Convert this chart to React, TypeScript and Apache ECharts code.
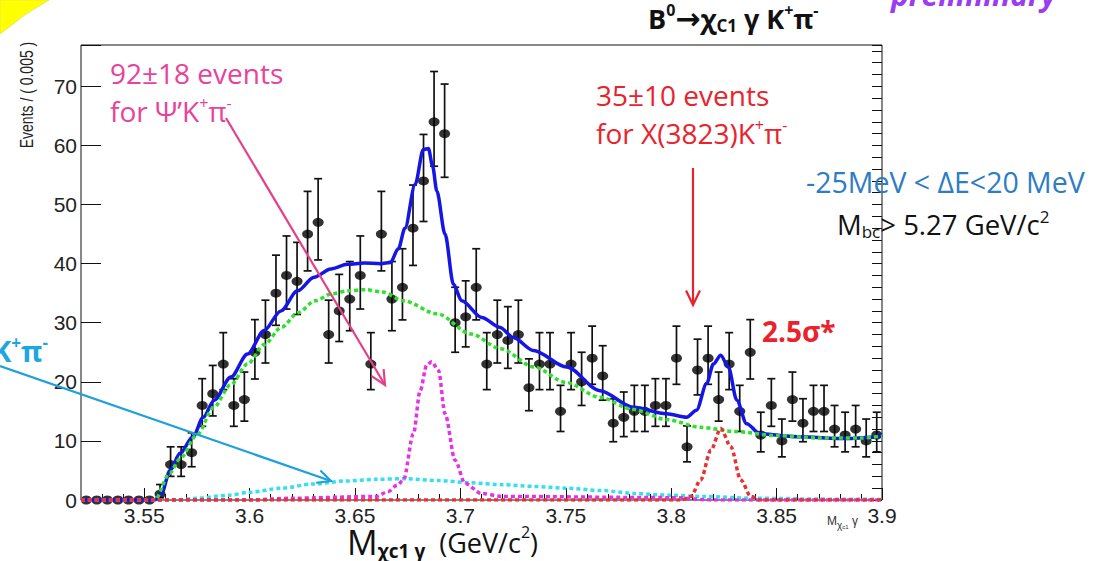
import React, { useEffect, useRef } from "react";
import * as echarts from "echarts";

// ---- data ----
const binCenters = [
  3.5225, 3.5275, 3.5325, 3.5375, 3.5425, 3.5475, 3.5525, 3.5575, 3.5625, 3.5675,
  3.5725, 3.5775, 3.5825, 3.5875, 3.5925, 3.5975, 3.6025, 3.6075, 3.6125, 3.6175,
  3.6225, 3.6275, 3.6325, 3.6375, 3.6425, 3.6475, 3.6525, 3.6575, 3.6625, 3.6675,
  3.6725, 3.6775, 3.6825, 3.6875, 3.6925, 3.6975, 3.7025, 3.7075, 3.7125, 3.7175,
  3.7225, 3.7275, 3.7325, 3.7375, 3.7425, 3.7475, 3.7525, 3.7575, 3.7625, 3.7675,
  3.7725, 3.7775, 3.7825, 3.7875, 3.7925, 3.7975, 3.8025, 3.8075, 3.8125, 3.8175,
  3.8225, 3.8275, 3.8325, 3.8375, 3.8425, 3.8475, 3.8525, 3.8575, 3.8625, 3.8675,
  3.8725, 3.8775, 3.8825, 3.8875, 3.8925, 3.8975,
];
const counts = [
  0, 0, 0, 0, 0, 0, 0, 1, 6, 6,
  8, 16, 18, 23, 16, 17, 25, 28, 35, 38,
  37, 45, 47, 28, 32, 34, 38, 23, 45, 34,
  36, 46, 54, 64, 62, 30, 31, 36, 23, 28,
  27, 28, 19, 23, 23, 15, 23, 20, 24, 21,
  13, 14, 15, 15, 16, 16, 24, 9, 22, 24,
  17, 23, 15, 25, 11, 16, 10, 17, 13, 15,
  15, 12, 11, 12, 10, 11,
];

const xMajorTicks = [3.55, 3.6, 3.65, 3.7, 3.75, 3.8, 3.85, 3.9];
const xMinorTicks = [
  3.53, 3.54, 3.56, 3.57, 3.58, 3.59, 3.61, 3.62, 3.63, 3.64, 3.66, 3.67, 3.68, 3.69,
  3.71, 3.72, 3.73, 3.74, 3.76, 3.77, 3.78, 3.79, 3.81, 3.82, 3.83, 3.84, 3.86, 3.87,
  3.88, 3.89,
];
const yMajorTicks = [0, 10, 20, 30, 40, 50, 60, 70];

// total fit (blue)
const totalX = [
  3.52, 3.555, 3.5583, 3.5622, 3.567, 3.5731, 3.578, 3.5832, 3.5911, 3.599, 3.6069,
  3.6148, 3.6227, 3.6306, 3.6385, 3.6464, 3.6543, 3.6622, 3.6668, 3.6705, 3.6737,
  3.6785, 3.6824, 3.6848, 3.6868, 3.6888, 3.6927, 3.6967, 3.7006, 3.7101, 3.7188,
  3.7251, 3.7346, 3.7504, 3.7662, 3.782, 3.7978, 3.8073, 3.812, 3.8168, 3.82, 3.8235,
  3.8271, 3.8311, 3.8358, 3.8421, 3.8595, 3.8833, 3.895, 3.9,
];
const totalY = [
  0, 0, 1.2, 5, 7.9, 10.7, 14, 16.9, 20.8, 24.7, 28.7,
  32, 35.4, 37.7, 39.1, 39.9, 40.1, 40, 40.2, 42.5, 46,
  53.4, 59.3, 59.5, 56.5, 52.3, 45, 36.5, 33.7, 30.9, 29.2,
  27.5, 25.3, 22.5, 18.5, 15.7, 14.6, 14, 15.2, 19.7, 23, 24.5,
  22.5, 16.9, 12.9, 11.2, 10.7, 10.4, 10.6, 11,
];
// combinatorial background (green)
const bkgX = [
  3.52, 3.555, 3.562, 3.567, 3.575, 3.583, 3.591, 3.599, 3.607, 3.615, 3.623, 3.631,
  3.639, 3.647, 3.655, 3.663, 3.673, 3.689, 3.705, 3.719, 3.735, 3.75, 3.766, 3.782,
  3.798, 3.814, 3.83, 3.85, 3.87, 3.89, 3.9,
];
const bkgY = [
  0, 0, 4.5, 7, 11, 15.7, 19.5, 23, 26.3, 29.2, 31.7, 33.7,
  34.9, 35.4, 35.6, 35.2, 33.7, 31.5, 28.1, 25.6, 22.5, 19.9, 17.4, 15.3,
  13.6, 12.3, 11.6, 10.9, 10.5, 10.5, 10.8,
];
// non-resonant chi_c1 gamma K pi (cyan)
const nonResX = [
  3.52, 3.565, 3.575, 3.59, 3.6, 3.615, 3.63, 3.645, 3.66, 3.673, 3.69, 3.705, 3.72,
  3.735, 3.75, 3.767, 3.783, 3.8, 3.815, 3.84, 3.87, 3.9,
];
const nonResY = [
  0, 0, 0.3, 0.8, 1.3, 2, 2.7, 3.2, 3.5, 3.6, 3.3, 2.9, 2.6,
  2.3, 2, 1.6, 1.1, 0.8, 0.6, 0.3, 0.15, 0.1,
];
// psi' K pi peak (magenta)
const psiX = [
  3.52, 3.6, 3.62, 3.66, 3.6656, 3.67, 3.673, 3.6777, 3.6809, 3.684, 3.6864, 3.6896,
  3.6927, 3.6975, 3.7022, 3.71, 3.72, 3.8, 3.82, 3.9,
];
const psiY = [
  0, 0, 0.3, 0.6, 1.4, 2.5, 3.4, 11.2, 18.5, 22.8, 23.4, 21.9,
  14.6, 6.7, 2.8, 1.1, 0.6, 0.4, 0, 0,
];
// X(3823) K pi peak (red)
const x3823X = [3.52, 3.805, 3.8093, 3.814, 3.8188, 3.8235, 3.8283, 3.833, 3.8378, 3.842, 3.9];
const x3823Y = [0, 0, 0.6, 3.4, 8.4, 12.1, 9.0, 3.4, 0.6, 0, 0];

const SANS = "'Liberation Sans', Arial, sans-serif";
const SLIDE = "'Open Sans', 'Noto Sans', sans-serif";

function arrow(x1: number, y1: number, x2: number, y2: number, color: string, w: number, head: number) {
  const a = Math.atan2(y2 - y1, x2 - x1);
  const s = 0.45;
  const p1 = [x2 - head * Math.cos(a - s), y2 - head * Math.sin(a - s)];
  const p2 = [x2 - head * Math.cos(a + s), y2 - head * Math.sin(a + s)];
  return [
    { type: "line", z: 100, shape: { x1, y1, x2, y2 }, style: { stroke: color, lineWidth: w } },
    { type: "polyline", z: 100, shape: { points: [p1, [x2, y2], p2] }, style: { stroke: color, lineWidth: w, fill: null } },
  ];
}

export default function App() {
  const ref = useRef<HTMLDivElement>(null);
  useEffect(() => {
    if (!ref.current) return;
    const chart = echarts.init(ref.current, null, { renderer: "svg" });
    const pts = binCenters.map((x, i) => [x, counts[i]]);
    const errs = binCenters.map((x, i) => {
      const n = counts[i];
      const lo = n > 0 ? Math.sqrt(n + 0.25) - 0.5 : 0;
      const hi = n > 0 ? Math.sqrt(n + 0.25) + 0.5 : 0;
      return [x, n, n - lo, n + hi];
    });
    const pair = (xs: number[], ys: number[]) => xs.map((x, i) => [x, ys[i]]);
    const curve = (name: string, data: number[][], color: string, dotted: boolean, z: number) => ({
      name,
      type: "line",
      data,
      showSymbol: false,
      smooth: 0.3,
      smoothMonotone: "x",
      z,
      lineStyle: dotted
        ? { color, width: 3.5, type: [4, 3] }
        : { color, width: 3.5, type: "solid" },
      silent: true,
    });

    const graphics: any[] = [
      // yellow corner shape
      {
        type: "polygon",
        z: 100,
        shape: { points: [[0, 0], [49, 0], [26, 14], [0, 34]] },
        style: { fill: "#ffff00", stroke: "#e8e84a", lineWidth: 1 },
      },
      // title
      {
        type: "text",
        z: 100,
        x: 648,
        y: 18,
        style: {
          text: "{n|B}{sup|0}{ar|→}{n|χ}{sub|C1}{n| γ K}{sup|+}{n|π}{sup|-}",
          verticalAlign: "middle",
          rich: {
            n: { fontFamily: SLIDE, fontSize: 27, fontWeight: "bold", fill: "#111", lineHeight: 32 },
            ar: { fontFamily: "'DejaVu Sans', sans-serif", fontSize: 30, fontWeight: "bold", fill: "#111", lineHeight: 32 },
            sup: { fontFamily: SLIDE, fontSize: 16, fontWeight: "bold", fill: "#111", lineHeight: 18, verticalAlign: "top" },
            sub: { fontFamily: SLIDE, fontSize: 17, fontWeight: "bold", fill: "#111", lineHeight: 18, verticalAlign: "bottom" },
          },
        },
      },
      // preliminary (cut at top)
      {
        type: "text",
        z: 100,
        x: 891,
        y: -6,
        style: {
          text: "preliminary",
          fontFamily: SLIDE,
          fontSize: 30,
          fontWeight: "bold",
          fontStyle: "italic",
          fill: "#9b3cf0",
          verticalAlign: "middle",
        },
      },
      // psi' annotation
      {
        type: "text", z: 100, x: 110, y: 73,
        style: { text: "92±18 events", fontFamily: SLIDE, fontSize: 28, fill: "#e8429a", verticalAlign: "middle" },
      },
      {
        type: "text", z: 100, x: 110, y: 111,
        style: {
          text: "{n|for Ψ’K}{sup|+}{n|π}{sup|-}",
          verticalAlign: "middle",
          rich: {
            n: { fontFamily: SLIDE, fontSize: 28, fill: "#e8429a", lineHeight: 32 },
            sup: { fontFamily: SLIDE, fontSize: 16, fill: "#e8429a", lineHeight: 18, verticalAlign: "top" },
          },
        },
      },
      // X(3823) annotation
      {
        type: "text", z: 100, x: 596, y: 95,
        style: { text: "35±10 events", fontFamily: SLIDE, fontSize: 28, fill: "#e8232b", verticalAlign: "middle" },
      },
      {
        type: "text", z: 100, x: 596, y: 133,
        style: {
          text: "{n|for X(3823)K}{sup|+}{n|π}{sup|-}",
          verticalAlign: "middle",
          rich: {
            n: { fontFamily: SLIDE, fontSize: 28, fill: "#e8232b", lineHeight: 32 },
            sup: { fontFamily: SLIDE, fontSize: 16, fill: "#e8232b", lineHeight: 18, verticalAlign: "top" },
          },
        },
      },
      // cuts
      {
        type: "text", z: 100, x: 806, y: 182,
        style: { text: "-25MeV < ΔE<20 MeV", fontFamily: SLIDE, fontSize: 28.5, fill: "#2e7cc4", verticalAlign: "middle" },
      },
      {
        type: "text", z: 100, x: 837, y: 224,
        style: {
          text: "{n|M}{sub|bc}{n|> 5.27 GeV/c}{sup|2}",
          verticalAlign: "middle",
          rich: {
            n: { fontFamily: SLIDE, fontSize: 27.5, fill: "#111", lineHeight: 32 },
            sub: { fontFamily: SLIDE, fontSize: 17, fill: "#111", lineHeight: 18, verticalAlign: "bottom" },
            sup: { fontFamily: SLIDE, fontSize: 17, fill: "#111", lineHeight: 18, verticalAlign: "top" },
          },
        },
      },
      // significance
      {
        type: "text", z: 100, x: 762, y: 331,
        style: { text: "2.5σ*", fontFamily: SLIDE, fontSize: 28, fontWeight: "bold", fill: "#e8232b", verticalAlign: "middle" },
      },
      // cyan K+pi- label (cut at left)
      {
        type: "text", z: 100, x: -8, y: 350,
        style: {
          text: "{n|K}{sup|+}{n|π}{sup|-}",
          verticalAlign: "middle",
          rich: {
            n: { fontFamily: SLIDE, fontSize: 29, fontWeight: "bold", fill: "#1ea6e0", lineHeight: 32 },
            sup: { fontFamily: SLIDE, fontSize: 17, fontWeight: "bold", fill: "#1ea6e0", lineHeight: 18, verticalAlign: "top" },
          },
        },
      },
      // y axis title
      {
        type: "text", z: 100, x: 26, y: 95, rotation: Math.PI / 2, scaleY: 1.3,
        style: { text: "Events / ( 0.005 )", fontFamily: SANS, fontSize: 14, fill: "#222", align: "center", verticalAlign: "middle" },
      },
      // big x axis title
      {
        type: "text", z: 100, x: 347, y: 542,
        style: {
          text: "{M|M}{sub|χc1 γ}{p|  (GeV/c}{sup|2}{p|)}",
          verticalAlign: "middle",
          rich: {
            M: { fontFamily: SLIDE, fontSize: 34, fill: "#111", lineHeight: 36 },
            sub: { fontFamily: SLIDE, fontSize: 19, fontWeight: "bold", fill: "#111", lineHeight: 20, verticalAlign: "bottom" },
            p: { fontFamily: SLIDE, fontSize: 27, fill: "#111", lineHeight: 32 },
            sup: { fontFamily: SLIDE, fontSize: 16, fill: "#111", lineHeight: 24, verticalAlign: "top" },
          },
        },
      },
      // small ROOT axis title
      {
        type: "text", z: 100, x: 827, y: 521,
        style: {
          text: "{m|M}{s|χ}{ss|c1}{m| γ}",
          verticalAlign: "middle",
          rich: {
            m: { fontFamily: SANS, fontSize: 12, fill: "#333", lineHeight: 14 },
            s: { fontFamily: SANS, fontSize: 10, fill: "#333", lineHeight: 16, verticalAlign: "bottom" },
            ss: { fontFamily: SANS, fontSize: 6, fill: "#333", lineHeight: 18, verticalAlign: "bottom" },
          },
        },
      },
      ...arrow(226, 118, 385, 385, "#e4408a", 2.2, 16),
      ...arrow(693, 168, 693, 305, "#e8232b", 2.2, 16),
      ...arrow(0, 366, 331, 481, "#1ea0dc", 2.2, 15),
    ];

    const option: any = {
      animation: false,
      backgroundColor: "#fff",
      textStyle: { fontFamily: SANS },
      grid: {
        left: 81,
        top: 45,
        width: 801,
        height: 455,
        show: true,
        borderColor: "#111",
        borderWidth: 1,
        backgroundColor: "transparent",
      },
      xAxis: [
        {
          type: "value",
          min: 3.52,
          max: 3.9,
          position: "bottom",
          axisLine: { show: false },
          splitLine: { show: false },
          axisTick: { show: true, inside: true, length: 12, customValues: xMajorTicks, lineStyle: { color: "#111", width: 1 } },
          axisLabel: {
            customValues: xMajorTicks,
            formatter: (v: number) => String(v),
            fontFamily: SANS,
            fontSize: 21,
            color: "#222",
            margin: 5,
          },
        },
        {
          type: "value",
          min: 3.52,
          max: 3.9,
          position: "bottom",
          axisLine: { show: false },
          splitLine: { show: false },
          axisTick: { show: true, inside: true, length: 6, customValues: xMinorTicks, lineStyle: { color: "#111", width: 1 } },
          axisLabel: { show: false },
        },
      ],
      yAxis: [
        {
          type: "value",
          min: 0,
          max: 77,
          interval: 10,
          axisLine: { show: false },
          splitLine: { show: false },
          axisTick: { show: true, inside: true, length: 20, lineStyle: { color: "#111", width: 1 } },
          axisLabel: {
            formatter: (v: number) => (yMajorTicks.indexOf(v) >= 0 ? String(v) : ""),
            fontFamily: SANS,
            fontSize: 21,
            color: "#222",
            margin: 4,
          },
        },
        {
          type: "value",
          min: 0,
          max: 77,
          interval: 2,
          axisLine: { show: false },
          splitLine: { show: false },
          axisTick: { show: true, inside: true, length: 10, lineStyle: { color: "#111", width: 1 } },
          axisLabel: { show: false },
        },
      ],
      series: [
        {
          name: "errors",
          type: "custom",
          data: errs,
          z: 2,
          silent: true,
          encode: { x: 0, y: 1 },
          renderItem: (params: any, api: any) => {
            const x = api.value(0);
            const lo = api.value(2);
            const hi = api.value(3);
            if (!(hi > lo)) return { type: "group", children: [] };
            const p1 = api.coord([x, lo]);
            const p2 = api.coord([x, hi]);
            const cap = 4;
            const st = { stroke: "#111", lineWidth: 1.7 };
            return {
              type: "group",
              children: [
                { type: "line", shape: { x1: p1[0], y1: p1[1], x2: p2[0], y2: p2[1] }, style: st },
                { type: "line", shape: { x1: p1[0] - cap, y1: p1[1], x2: p1[0] + cap, y2: p1[1] }, style: st },
                { type: "line", shape: { x1: p2[0] - cap, y1: p2[1], x2: p2[0] + cap, y2: p2[1] }, style: st },
              ],
            };
          },
        },
        {
          name: "data",
          type: "scatter",
          data: pts,
          symbol: "circle",
          symbolSize: [11, 9],
          itemStyle: { color: "#000" },
          z: 3,
          silent: true,
        },
        curve("total", pair(totalX, totalY), "#1515e6", false, 5),
        curve("bkg", pair(bkgX, bkgY), "#2fe02f", true, 6),
        curve("nonres", pair(nonResX, nonResY), "#35e0ee", true, 6),
        curve("psi2s", pair(psiX, psiY), "#e632e6", true, 6),
        curve("x3823", pair(x3823X, x3823Y), "#e63232", true, 7),
      ],
      graphic: graphics,
    };
    chart.setOption(option);
    return () => chart.dispose();
  }, []);
  return (
    <div
      ref={ref}
      style={{ position: "fixed", left: 0, top: 0, width: 1099, height: 561, background: "#fff" }}
    />
  );
}
